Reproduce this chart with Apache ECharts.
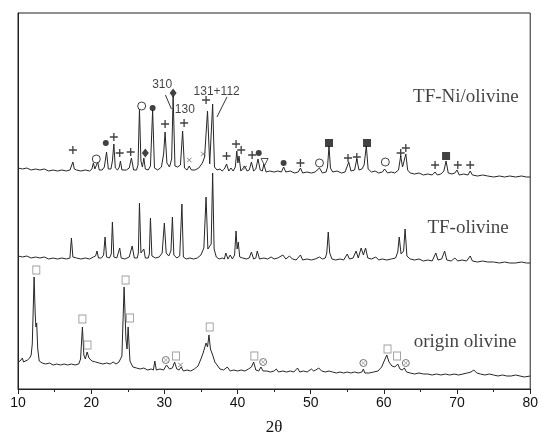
<!DOCTYPE html>
<html><head><meta charset="utf-8">
<script src="https://cdn.jsdelivr.net/npm/echarts@6/dist/echarts.min.js"></script>
<style>html,body{margin:0;padding:0;background:#fff}#c{width:541px;height:442px}</style>
</head><body><div id="c"></div>
<script>
// 2θ vs relative intensity (offset stacked traces, arbitrary units)
const tfNi = [[10,221],[10.6,220],[11.2,221],[11.8,219],[12.4,220],[13,219],[13.6,220],[14.2,218],[14.8,219],[15.4,218],[16,219],[16.6,218],[17.1,219],[17.3,221],[17.5,227],[17.7,220],[18,219],[18.6,218],[19.2,219],[19.8,218],[20.1,220],[20.3,226],[20.5,220],[20.7,221],[20.9,227],[21.1,219],[21.5,219],[21.8,222],[22.1,237],[22.35,220],[22.7,220],[22.9,228],[23.1,245],[23.3,221],[23.6,219],[23.85,222],[24.0,228],[24.2,219],[24.8,219],[25.2,221],[25.5,231],[25.8,219],[26.2,219],[26.4,224],[26.6,280],[26.8,228],[27.0,222],[27.2,231],[27.4,220],[27.8,219],[28.1,223],[28.4,279],[28.65,221],[29.1,219],[29.6,222],[29.9,235],[30.1,257],[30.35,226],[30.7,222],[31.0,230],[31.2,293],[31.45,223],[31.8,222],[32.2,224],[32.5,258],[32.75,221],[33.1,219],[33.4,223],[33.7,219],[34.2,219],[34.7,221],[35.2,226],[35.5,232],[35.9,278],[36.2,225],[36.35,224],[36.6,285],[36.85,222],[37.2,219],[37.6,220],[37.9,218],[38.2,220],[38.5,225],[38.8,218],[39.1,221],[39.4,218],[39.7,222],[39.9,238],[40.05,226],[40.2,233],[40.45,218],[40.7,219],[41.0,223],[41.3,218],[41.6,219],[41.9,227],[42.2,218],[42.5,220],[42.8,230],[43.1,219],[43.4,218],[43.6,225],[43.9,217],[44.4,218],[45,217],[45.5,218],[46,217],[46.3,222],[46.6,217],[47.2,218],[47.8,216],[48.3,217],[48.6,221],[48.9,216],[49.5,217],[50.1,216],[50.6,217],[51.2,221],[51.6,216],[52.1,217],[52.3,222],[52.5,243],[52.7,221],[53,217],[53.6,218],[54.2,216],[54.7,217],[55.2,227],[55.5,218],[56,219],[56.3,230],[56.6,219],[57.0,220],[57.3,224],[57.6,243],[57.85,220],[58.3,217],[58.8,218],[59.3,216],[59.8,217],[60.1,220],[60.5,216],[61,217],[61.5,216],[62,219],[62.3,233],[62.55,222],[62.8,224],[63.0,235],[63.25,219],[63.6,216],[64.2,215],[64.8,216],[65.4,214],[66,215],[66.6,214],[67.0,217],[67.3,214],[67.8,215],[68.2,218],[68.5,228],[68.8,216],[69.3,215],[69.7,216],[70.0,219],[70.3,214],[70.9,215],[71.5,214],[71.8,218],[72.1,214],[72.8,213],[73.5,214],[74.2,213],[75,212],[75.8,213],[76.5,212],[77.2,213],[78,212],[78.8,213],[79.5,212],[80,212]];

const tfOl = [[10,133],[10.6,132],[11.2,133],[11.8,131],[12.4,132],[13,131],[13.6,132],[14.2,130],[14.8,131],[15.4,130],[16,131],[16.6,130],[17.1,131],[17.3,151],[17.5,132],[18,131],[18.6,130],[19.2,131],[19.8,130],[20.3,132],[20.6,133],[20.8,138],[21.0,131],[21.4,131],[21.7,134],[21.9,152],[22.1,132],[22.5,131],[22.75,135],[22.9,167],[23.1,132],[23.5,131],[23.75,133],[23.9,141],[24.1,131],[24.6,130],[25.2,132],[25.6,143],[25.9,131],[26.3,131],[26.45,136],[26.6,186],[26.8,136],[27.0,134],[27.2,140],[27.4,131],[27.8,131],[27.95,135],[28.1,171],[28.3,133],[28.8,131],[29.3,132],[29.7,136],[30.0,166],[30.25,136],[30.6,133],[30.9,138],[31.1,172],[31.3,134],[31.7,131],[32.1,133],[32.4,185],[32.6,132],[33.0,130],[33.5,131],[34,130],[34.5,131],[35.0,134],[35.4,141],[35.7,192],[35.95,140],[36.2,138],[36.4,145],[36.6,216],[36.8,140],[37.1,132],[37.5,130],[37.9,131],[38.2,130],[38.4,136],[38.7,130],[39.0,134],[39.3,130],[39.6,134],[39.8,158],[39.95,140],[40.1,147],[40.3,132],[40.7,131],[41.2,130],[41.6,131],[41.9,137],[42.2,130],[42.5,131],[42.7,138],[43.0,130],[43.6,131],[44.1,130],[44.6,132],[45,130],[45.5,131],[46.2,134],[46.6,130],[47.1,133],[47.5,130],[48,129],[48.6,134],[48.9,129],[49.5,130],[50.1,129],[50.6,130],[51.2,132],[51.6,130],[52.0,131],[52.2,136],[52.4,157],[52.6,136],[52.9,130],[53.4,129],[54,130],[54.5,129],[55.0,135],[55.3,130],[55.8,131],[56.2,138],[56.5,131],[56.9,141],[57.2,134],[57.5,141],[57.8,131],[58.3,130],[58.9,132],[59.3,129],[59.8,130],[60.4,129],[61,130],[61.6,131],[61.9,137],[62.1,152],[62.35,135],[62.7,138],[62.9,160],[63.15,133],[63.6,130],[64.2,129],[64.8,130],[65.4,128],[66,129],[66.6,128],[67.1,136],[67.4,129],[67.9,130],[68.3,138],[68.6,129],[69.2,128],[69.7,131],[70.1,128],[70.7,129],[71.3,128],[71.8,133],[72.1,128],[72.8,127],[73.5,128],[74.2,127],[75,127],[75.8,126],[76.5,127],[77.2,126],[78,126],[78.8,127],[79.5,126],[80,126]];

const origin = [[10,27],[10.3,28],[10.5,29],[10.6,31],[10.75,27],[11,28],[11.3,29],[11.6,31],[11.8,34],[11.95,45],[12.1,85],[12.2,112],[12.35,75],[12.45,62],[12.55,66],[12.7,40],[12.9,28],[13.3,26],[13.8,25],[14.3,26],[14.8,24],[15.3,25],[15.8,24],[16.3,25],[16.8,24],[17.3,25],[17.8,24],[18.3,25],[18.55,30],[18.8,62],[19.0,34],[19.2,30],[19.45,37],[19.7,31],[20.1,28],[20.6,27],[21.1,26],[21.6,25],[22.1,26],[22.6,25],[23.0,27],[23.4,25],[23.8,27],[24.2,33],[24.5,102],[24.75,50],[24.9,40],[25.05,62],[25.3,28],[25.7,22],[26.2,21],[26.7,20],[27.2,21],[27.7,19],[28.2,20],[28.5,19],[28.7,28],[28.9,19],[29.4,20],[29.9,19],[30.3,24],[30.7,20],[31.1,21],[31.4,27],[31.7,20],[32.0,19],[32.3,22],[32.6,18],[33.1,19],[33.6,18],[34.1,20],[34.6,23],[35.0,30],[35.3,36],[35.5,41],[35.7,46],[35.9,42],[36.1,54],[36.3,40],[36.6,34],[36.9,27],[37.2,24],[37.6,20],[38.1,19],[38.6,22],[39.0,18],[39.5,19],[40,18],[40.5,19],[41,18],[41.5,20],[41.9,22],[42.2,27],[42.5,19],[42.9,18],[43.2,22],[43.5,18],[44,18],[44.5,17],[45,18],[45.3,20],[45.6,17],[46.2,18],[46.7,17],[47.2,18],[47.7,17],[48.2,21],[48.5,17],[49,18],[49.5,17],[50.1,20],[50.4,18],[50.7,19],[51.1,21],[51.5,18],[52,17],[52.5,18],[53,17],[53.5,16],[54,17],[54.5,16],[55,17],[55.5,16],[56,17],[56.5,16],[57,17],[57.2,20],[57.4,16],[58,16],[58.6,17],[59.2,18],[59.7,22],[60.1,29],[60.4,34],[60.7,27],[61.1,23],[61.5,22],[61.9,25],[62.2,20],[62.5,19],[62.8,21],[63.1,17],[63.6,16],[64.2,15],[64.8,16],[65.4,15],[66,15],[66.6,14],[67.2,15],[67.8,14],[68.4,15],[69,14],[69.6,15],[70.2,14],[70.8,15],[71.4,16],[71.9,17],[72.3,19],[72.7,16],[73.2,15],[73.8,14],[74.4,15],[75,14],[75.6,13],[76.2,14],[76.8,13],[77.4,13],[78,14],[78.6,13],[79.2,12],[80,13]];

// phase markers
const plusMarks = [[17.5,239],[23.1,252],[23.9,236],[25.4,237],[30.1,265],[32.7,266],[35.7,289],[38.5,233],[39.8,245],[40.5,239],[42.0,234],[48.6,226],[55.1,231],[56.3,232],[62.3,236],[63.0,241],[67.0,224],[70.1,224],[71.8,224]];
const dotMarks = [[22.0,246],[28.4,281],[42.9,236],[46.3,226]];
const ringMarks = [[20.7,230],[26.9,283],[51.2,226],[60.2,227]];
const diamondMarks = [[27.4,236],[31.2,296]];
const squareMarks = [[52.5,246],[57.7,246],[68.5,233]];
const crossMarks = [[33.4,229],[35.3,235],[41.0,221],[32.2,24]];
const triMarks = [[43.7,227]];
const boxMarks = [[12.5,119],[18.8,70],[19.5,44],[24.7,109],[25.3,71],[31.6,33],[36.2,62],[42.3,33],[60.5,40],[61.8,33]];
const otimesMarks = [[30.2,29],[43.5,27],[57.2,26],[63.0,26]];

const hklNotes = [[29.7,304,'310'],[32.8,279,'130'],[37.15,297,'131+112']];
const sampleNames = [[71.2,292,'TF-Ni/olivine'],[71.5,161,'TF-olivine'],[71.1,47,'origin olivine']];
const leader310 = [[30.15,294],[30.97,280]];
const leader131 = [[38.56,292],[37.19,272]];

const PLUS = 'path://M5,0H7V5H12V7H7V12H5V7H0V5H5Z';
const CROSS = 'path://M0,1L1,0L6,5L11,0L12,1L7,6L12,11L11,12L6,7L1,12L0,11L5,6Z';

function trace(d){return {type:'line',data:d,showSymbol:false,symbol:'none',lineStyle:{width:1,color:'#262626'},z:2,silent:true};}
function marks(d,symbol,size,style,extra){return Object.assign({type:'scatter',data:d,symbol:symbol,symbolSize:size,itemStyle:style,z:5,silent:true},extra||{});}
function texts(d,font){return {type:'scatter',data:d,symbol:'circle',symbolSize:1,itemStyle:{color:'rgba(0,0,0,0)'},z:6,silent:true,
  label:{show:true,position:'inside',formatter:p=>p.data[2],color:'#111',fontFamily:font.family,fontSize:font.size}};}

const chart = echarts.init(document.getElementById('c'),null,{renderer:'canvas'});
chart.setOption({
  animation:false,
  grid:{left:18,right:10,top:13,bottom:53,show:true,borderColor:'#222',borderWidth:1,backgroundColor:'rgba(0,0,0,0)'},
  xAxis:{type:'value',min:10,max:80,interval:10,
    axisLine:{onZero:false,lineStyle:{color:'#222',width:1}},
    axisTick:{length:5,lineStyle:{color:'#222'}},
    minorTick:{show:true,splitNumber:2,length:3,lineStyle:{color:'#222'}},
    splitLine:{show:false},
    axisLabel:{fontFamily:'Liberation Sans',fontSize:14,color:'#111',margin:7},
    name:'2θ',nameLocation:'middle',nameGap:30,
    nameTextStyle:{fontFamily:'Liberation Serif',fontSize:17,color:'#111'}},
  yAxis:{type:'value',min:0,max:376,axisLine:{show:true,lineStyle:{color:'#222'}},axisTick:{show:false},axisLabel:{show:false},splitLine:{show:false}},
  series:[
    trace(tfNi),trace(tfOl),trace(origin),
    {type:'line',data:leader310,symbol:'none',lineStyle:{width:1,color:'#333'},silent:true},
    {type:'line',data:leader131,symbol:'none',lineStyle:{width:1,color:'#333'},silent:true},
    marks(plusMarks,PLUS,8,{color:'#111'}),
    marks(dotMarks,'circle',6,{color:'#111'}),
    marks(ringMarks,'circle',8,{color:'#fff',borderColor:'#111',borderWidth:1}),
    marks(diamondMarks,'diamond',[7,9],{color:'#111'}),
    marks(squareMarks,'rect',8,{color:'#111'}),
    marks(crossMarks,CROSS,5,{color:'#555'}),
    marks(triMarks,'triangle',7,{color:'#fff',borderColor:'#222',borderWidth:1},{symbolRotate:180}),
    marks(boxMarks,'rect',[7,8],{color:'#fff',borderColor:'#888',borderWidth:1}),
    marks(otimesMarks,'circle',7,{color:'#fff',borderColor:'#555',borderWidth:1}),
    marks(otimesMarks,CROSS,4,{color:'#555'},{z:7}),
    texts(hklNotes,{family:'Liberation Sans',size:12}),
    texts(sampleNames,{family:'Liberation Serif',size:19})
  ]
});
</script></body></html>
